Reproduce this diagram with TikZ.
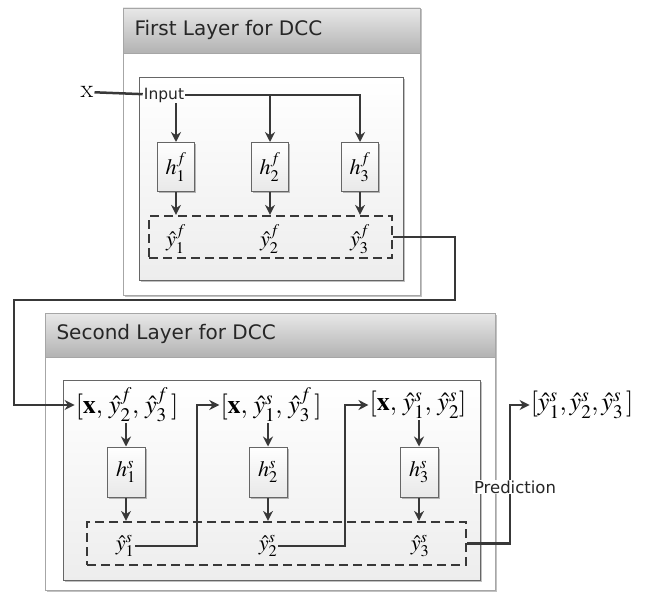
\documentclass[tikz,border=0pt]{standalone}
\usepackage{mathptmx}
\usepackage{fontspec}
\setsansfont{DejaVu Sans}
\usetikzlibrary{shadows,arrows.meta}
\definecolor{ln}{HTML}{383838}
\tikzset{
  layerbox/.style={draw=gray!70, line width=0.7pt, fill=white, drop shadow={shadow xshift=1.5pt, shadow yshift=-1.5pt, fill=gray!80, opacity=0.6}},
  headbox/.style={draw=gray!70, line width=0.7pt, top color=gray!18, bottom color=gray!60},
  innerbox/.style={draw=gray!80!black, line width=1pt, top color=white, bottom color=gray!14, drop shadow={shadow xshift=1.5pt, shadow yshift=-1.5pt, fill=gray!70, opacity=0.7}},
  hbox/.style={draw=gray!80!black, line width=1pt, top color=white, bottom color=gray!18, minimum width=37pt, minimum height=49pt, inner sep=0pt, drop shadow={shadow xshift=1.8pt, shadow yshift=-1.8pt, fill=gray!80, opacity=0.7}, font=\fontsize{22}{24}\selectfont},
  dbox/.style={draw=ln, dash pattern=on 9pt off 5pt, line width=2.2pt, inner sep=0pt},
  conn/.style={draw=ln, line width=2.5pt},
  arr/.style={conn, -{Stealth[length=10pt, width=10pt]}},
  mlabel/.style={font=\fontsize{22}{24}\selectfont, inner sep=1pt},
  inlabel/.style={font=\fontsize{26}{28}\selectfont, inner sep=1pt},
  title/.style={font=\sffamily\fontsize{20}{22}\selectfont, anchor=west, text=black!85},
  small/.style={font=\sffamily\fontsize{15.5}{17}\selectfont, inner sep=1pt, text=black!85}
}
\begin{document}
\begin{tikzpicture}[x=1pt,y=-1pt]
\useasboundingbox (0,0) rectangle (650,599);
% ---- first layer
\path[layerbox] (123,8) rectangle (420,295);
\path[headbox] (123,8) rectangle (420,53);
\node[title] (t1) at (131,30) {First Layer for DCC};
\path[innerbox] (139,78) rectangle (403,280);
\node[hbox] (h1f) at (176,167) {$h_1^f$};
\node[hbox] (h2f) at (270,167) {$h_2^f$};
\node[hbox] (h3f) at (360,167) {$h_3^f$};
\node[dbox, minimum width=243pt, minimum height=42pt] (d1) at (270.5,237) {};
\node[mlabel] (y1f) at (176,239) {$\hat{y}_1^f$};
\node[mlabel] (y2f) at (270,239) {$\hat{y}_2^f$};
\node[mlabel] (y3f) at (360,239) {$\hat{y}_3^f$};
\node[font=\fontsize{26}{28}\selectfont, inner sep=1pt] (xin) at (87,92) {x};
\node[small] (inp) at (164,95) {Input};
\draw[conn] (xin) -- (inp);
\draw[arr] (inp.east) -| (h3f.north);
\draw[arr] (inp.east -| h2f) -- (h2f.north);
\draw[arr] (h1f |- inp.south) -- (h1f.north);
\draw[arr] (h1f.south) -- (h1f.south |- d1.north);
\draw[arr] (h2f.south) -- (h2f.south |- d1.north);
\draw[arr] (h3f.south) -- (h3f.south |- d1.north);
% ---- second layer
\path[layerbox] (45,313) rectangle (495,590);
\path[headbox] (45,313) rectangle (495,357);
\node[title] (t2) at (53,334) {Second Layer for DCC};
\path[innerbox] (63,380) rectangle (480,580);
\node[inlabel] (in1) at (127,405) {$[\mathbf{x},\,\hat{y}_2^f,\,\hat{y}_3^f\,]$};
\node[inlabel] (in2) at (271,405) {$[\mathbf{x},\,\hat{y}_1^s,\,\hat{y}_3^f\,]$};
\node[inlabel] (in3) at (418,405) {$[\mathbf{x},\,\hat{y}_1^s,\,\hat{y}_2^s]$};
\node[inlabel] (out) at (582,405) {$[\hat{y}_1^s,\hat{y}_2^s,\hat{y}_3^s\,]$};
\node[hbox, minimum width=38pt, minimum height=50pt] (h1s) at (126,472) {$h_1^s$};
\node[hbox, minimum width=38pt, minimum height=50pt] (h2s) at (268,472) {$h_2^s$};
\node[hbox, minimum width=38pt, minimum height=50pt] (h3s) at (419,472) {$h_3^s$};
\node[dbox, minimum width=379pt, minimum height=43pt] (d2) at (276.5,543.5) {};
\node[mlabel] (y1s) at (125,546) {$\hat{y}_1^s$};
\node[mlabel] (y2s) at (268,546) {$\hat{y}_2^s$};
\node[mlabel] (y3s) at (420,546) {$\hat{y}_3^s$};
\draw[arr] (in1.south -| h1s) -- (h1s.north);
\draw[arr] (in2.south -| h2s) -- (h2s.north);
\draw[arr] (in3.south -| h3s) -- (h3s.north);
\draw[arr] (h1s.south) -- (h1s.south |- d2.north);
\draw[arr] (h2s.south) -- (h2s.south |- d2.north);
\draw[arr] (h3s.south) -- (h3s.south |- d2.north);
% ---- connectors
\coordinate (c1) at (455,300);
\coordinate (c2) at (14,300);
\draw[arr] (d1.east) -| (c1) -- (c2) |- (in1.west);
\coordinate (k1) at (197,405);
\coordinate (k2) at (345,405);
\coordinate (k3) at (510,405);
\draw[arr] (y1s.east) -| (k1) -- (in2.west);
\draw[arr] (y2s.east) -| (k2) -- (in3.west);
\draw[arr] (d2.east) -| (k3) -- (out.west);
\node[small, fill=white, font=\sffamily\fontsize{16.5}{18}\selectfont] (pred) at (515,487) {Prediction};
\end{tikzpicture}
\end{document}
